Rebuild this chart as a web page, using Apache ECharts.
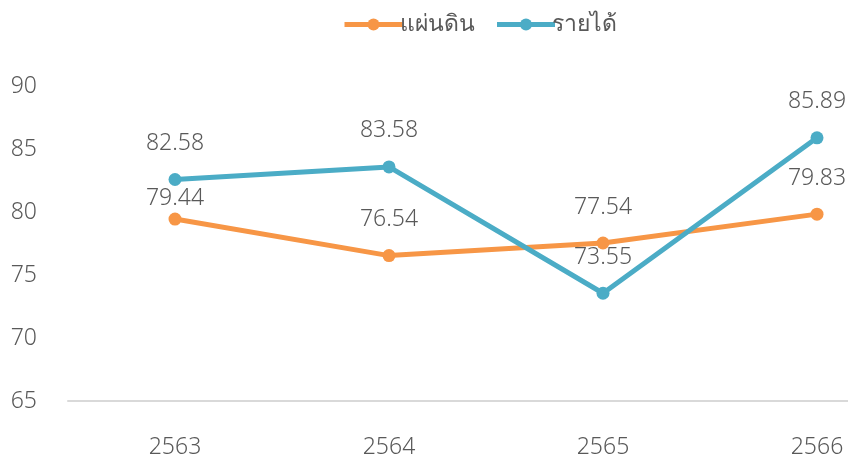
<!DOCTYPE html>
<html>
<head>
<meta charset="utf-8">
<script src="https://cdn.jsdelivr.net/npm/echarts@6/dist/echarts.min.js"></script>
<style>
  html, body { margin: 0; padding: 0; background: #fff; overflow: hidden; }
  #main { width: 924px; height: 459px; }
</style>
</head>
<body>
<div id="main"></div>
<script>
const years = ["2563", "2564", "2565", "2566"];
const landValues = [79.44, 76.54, 77.54, 79.83];
const incomeValues = [82.58, 83.58, 73.55, 85.89];
const yTicks = [65, 70, 75, 80, 85, 90];

// the original chart is cut off on the right, so the canvas is wider than the window
const chart = echarts.init(document.getElementById("main"));

const font = "'Noto Sans', 'Open Sans', sans-serif";
const textColor = "#595959";
const weight = 300;

// Excel nudged the first orange label down so it doesn't hit the blue line
const landData = landValues.map(function (v, i) {
  if (i === 0) return { value: v, label: { distance: 3 } };
  return v;
});

const option = {
  textStyle: { fontFamily: font, fontWeight: weight },
  legend: {
    top: 8,
    left: 337,
    itemWidth: 58,
    itemHeight: 15,
    itemGap: 20,
    lineStyle: { width: 5 },
    textStyle: { fontSize: 23, color: textColor, fontFamily: font, fontWeight: weight, padding: [0, 0, 0, -8] },
    data: ["แผ่นดิน", "รายได้"],
  },
  grid: { left: 68, top: 86, width: 856, height: 315 },
  xAxis: {
    type: "category",
    data: years,
    boundaryGap: true,
    axisLine: { lineStyle: { color: "#d9d9d9", width: 2 } },
    axisTick: { show: false },
    axisLabel: { color: textColor, fontSize: 23, margin: 35, fontFamily: font, fontWeight: weight },
  },
  yAxis: {
    type: "value",
    min: yTicks[0],
    max: yTicks[yTicks.length - 1],
    interval: 5,
    splitLine: { show: false },
    axisLine: { show: false },
    axisTick: { show: false },
    axisLabel: { color: textColor, fontSize: 23, margin: 31, fontFamily: font, fontWeight: weight },
  },
  series: [
    {
      name: "แผ่นดิน",
      type: "line",
      data: landData,
      color: "#F79646",
      symbol: "circle",
      symbolSize: 13,
      lineStyle: { width: 5 },
      label: {
        show: true,
        position: "top",
        distance: 18,
        color: textColor,
        fontSize: 23,
        fontFamily: font,
        fontWeight: weight,
      },
    },
    {
      name: "รายได้",
      type: "line",
      data: incomeValues,
      color: "#4BACC6",
      symbol: "circle",
      symbolSize: 13,
      lineStyle: { width: 5 },
      label: {
        show: true,
        position: "top",
        distance: 18,
        color: textColor,
        fontSize: 23,
        fontFamily: font,
        fontWeight: weight,
      },
    },
  ],
};

chart.setOption(option);
</script>
</body>
</html>
